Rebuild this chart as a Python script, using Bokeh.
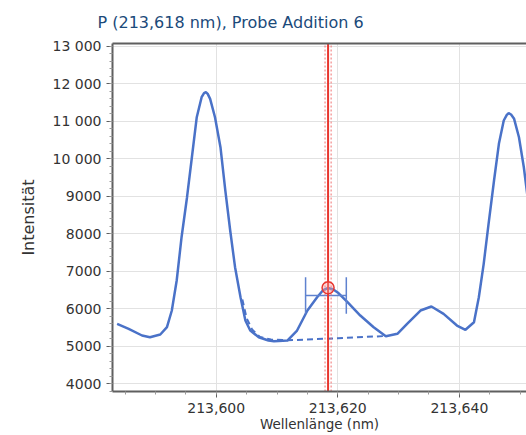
from bokeh.plotting import figure
from bokeh.models import (Range1d, FixedTicker, CustomJSTickFormatter, LinearAxis, ColumnDataSource)
from bokeh.embed import file_html
from bokeh.resources import INLINE

# ---- data ----
wavelength = [213.5837, 213.5856, 213.5878, 213.5891, 213.5908, 213.5919, 213.5927, 213.5935,
              213.5943, 213.5952, 213.5960, 213.5968, 213.5976, 213.5980, 213.5983, 213.5986,
              213.5990, 213.5998, 213.6007, 213.6015, 213.6023, 213.6031, 213.6040, 213.6048,
              213.6056, 213.6070, 213.6086, 213.6095, 213.6117, 213.6133, 213.6150, 213.6166,
              213.6176, 213.6184, 213.6192, 213.6201, 213.6216, 213.6237, 213.6259, 213.6279,
              213.6298, 213.6314, 213.6336, 213.6354, 213.6374, 213.6396, 213.6410, 213.6424,
              213.6432, 213.6440, 213.6448, 213.6457, 213.6465, 213.6473, 213.6478, 213.6481,
              213.6485, 213.6490, 213.6498, 213.6506, 213.6512, 213.6520]
intensity = [5600, 5466, 5288, 5242, 5314, 5509, 5954, 6754,
             7908, 8975, 10041, 11108, 11641, 11750, 11774, 11730,
             11598, 11108, 10308, 9153, 8087, 7109, 6309, 5688,
             5421, 5242, 5154, 5136, 5154, 5421, 5954, 6309,
             6500, 6555, 6520, 6420, 6175, 5821, 5509, 5269,
             5333, 5600, 5954, 6061, 5866, 5554, 5440, 5640,
             6309, 7199, 8266, 9420, 10398, 11020, 11170, 11214,
             11180, 11065, 10574, 9774, 9000, 7800]

fit_wavelength = [213.6043, 213.6050, 213.6059, 213.6072, 213.6090, 213.6117, 213.6200, 213.6279]
fit_intensity = [6250, 5750, 5450, 5250, 5180, 5160, 5215, 5275]

line_position = 213.6184
peak_intensity = 6560
window_left = 213.6147
window_right = 213.6214
window_low = 5866
window_high = 6842
window_mid = 6354

x_ticks = [213.60, 213.62, 213.64]
y_ticks = [4000, 5000, 6000, 7000, 8000, 9000, 10000, 11000, 12000, 13000]

title_text = "P (213,618 nm), Probe Addition 6"
x_label = "Wellenlänge (nm)"
y_label = "Intensität"

BLUE = "#4a72c8"
AXIS = "#5f5f5f"
FONT = "DejaVu Sans"

p = figure(width=526, height=435, output_backend="svg", toolbar_location=None,
           x_range=Range1d(213.58294, 213.65104), y_range=Range1d(3795, 13073),
           min_border_left=112, min_border_right=0, min_border_top=43, min_border_bottom=44)
p.outline_line_color = None
p.background_fill_color = "white"
p.border_fill_color = "white"

p.title.text = title_text
p.title.text_font = FONT
p.title.text_font_size = "16px"
p.title.text_font_style = "normal"
p.title.text_color = "#1b4a7a"
p.title.align = "left"
p.title.vertical_align = "middle"
p.title.offset = -15
p.title.standoff = 22

# axes
p.xaxis.ticker = FixedTicker(ticks=x_ticks,
                             minor_ticks=[213.585 + 0.005 * i for i in range(14)])
p.yaxis.ticker = FixedTicker(ticks=y_ticks,
                             minor_ticks=[3800 + 200 * i for i in range(47)])
p.xaxis.formatter = CustomJSTickFormatter(code="return tick.toFixed(3).replace('.', ',');")
p.yaxis.formatter = CustomJSTickFormatter(
    code="return tick >= 10000 ? Math.round(tick/1000) + ' 000' : tick.toFixed(0);")
for ax in (p.xaxis[0], p.yaxis[0]):
    ax.axis_line_color = AXIS
    ax.axis_line_width = 2
    ax.major_tick_line_color = AXIS
    ax.minor_tick_line_color = "#9a9a9a"
    ax.major_tick_in = 0
    ax.major_tick_out = 6
    ax.minor_tick_in = 0
    ax.minor_tick_out = 3
    ax.major_label_text_font = FONT
    ax.major_label_text_font_size = "14px"
    ax.major_label_text_color = "#333333"
    ax.axis_label_text_font = FONT
    ax.axis_label_text_font_style = "normal"
    ax.axis_label_text_color = "#333333"
p.xaxis.axis_label = x_label
p.yaxis.axis_label = y_label
p.xaxis.axis_label_text_font_size = "13.5px"
p.yaxis.axis_label_text_font_size = "16px"
p.xaxis.major_label_standoff = 5
p.yaxis.major_label_standoff = 5
p.xaxis.axis_label_standoff = 0
p.yaxis.axis_label_standoff = 12

# top border line
top = LinearAxis(ticker=FixedTicker(ticks=[]), axis_line_color=AXIS, axis_line_width=2,
                 major_tick_out=0, minor_tick_out=0, major_label_text_font_size="0px",
                 major_label_standoff=0)
p.add_layout(top, "above")

p.xgrid.grid_line_color = "#e2e2e2"
p.ygrid.grid_line_color = "#e2e2e2"

# spectrum
src = ColumnDataSource(dict(x=wavelength, y=intensity))
p.line("x", "y", source=src, line_color=BLUE, line_width=2.5)
p.line(fit_wavelength, fit_intensity, line_color=BLUE, line_width=2, line_dash="6 4")

# integration window
p.segment(x0=[window_left, window_right, window_left], y0=[window_low, window_low, window_mid],
          x1=[window_left, window_right, window_right], y1=[window_high, window_high, window_mid],
          line_color="#5f82cf", line_width=1.5)

# red marker line
p.segment(x0=[line_position - 0.0005, line_position + 0.0005], y0=[3795, 3795],
          x1=[line_position - 0.0005, line_position + 0.0005], y1=[13073, 13073],
          line_color="#f07070", line_width=1, line_dash="2 2")
p.segment(x0=[line_position], y0=[3795], x1=[line_position], y1=[13073],
          line_color="#e8362e", line_width=2)
p.scatter([line_position], [peak_intensity], size=12, marker="circle",
          line_color="#e8362e", line_width=1.5, fill_color="#f4a0a0", fill_alpha=0.4)

open("out.html", "w").write(file_html(p, INLINE))
